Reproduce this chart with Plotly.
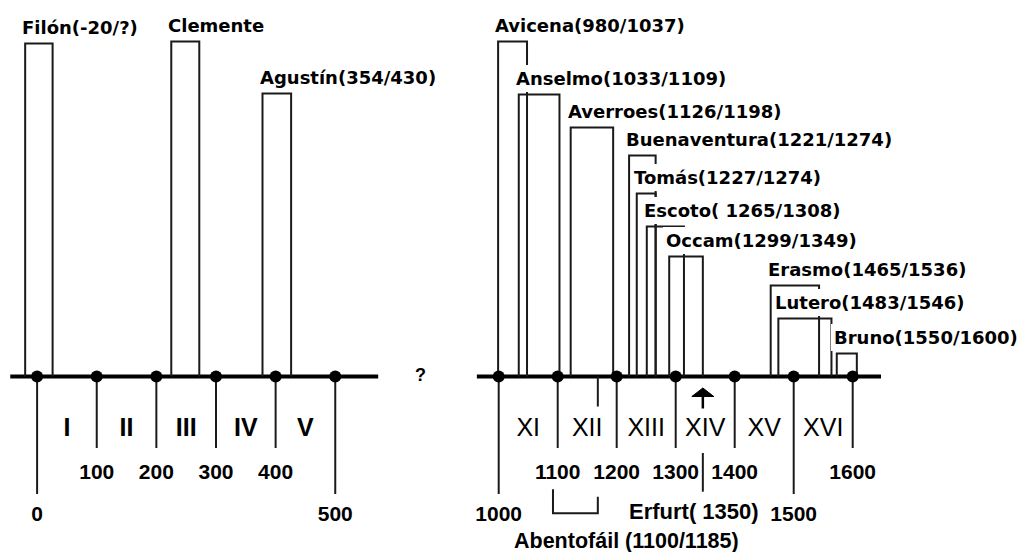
import plotly.graph_objects as go

# ---------------- data ----------------
ancient_ticks = [0, 100, 200, 300, 400, 500]
ancient_centuries = ["I", "II", "III", "IV", "V"]
medieval_ticks = [1000, 1100, 1200, 1300, 1400, 1500, 1600]
medieval_centuries = ["XI", "XII", "XIII", "XIV", "XV", "XVI"]

ancient_names = ["Filón(-20/?)", "Clemente", "Agustín(354/430)"]
ancient_start = [-20, 225, 378]
ancient_end = [26, 272, 426]
ancient_level = [333, 335, 283]

medieval_names = ["Avicena(980/1037)", "Anselmo(1033/1109)", "Averroes(1126/1198)",
                  "Buenaventura(1221/1274)", "Tomás(1227/1274)", "Escoto( 1265/1308)",
                  "Occam(1299/1349)", "Erasmo(1465/1536)", "Lutero(1483/1546)",
                  "Bruno(1550/1600)"]
medieval_start = [999, 1034, 1122, 1221, 1234, 1251, 1289, 1461, 1474, 1573]
medieval_end = [1048, 1103, 1194, 1266, 1266, 1314, 1346, 1543, 1564, 1607]
medieval_level = [335, 282, 249, 221, 183, 150, 120, 91, 58, 23]

abentofail_label = "Abentofáil (1100/1185)"
abentofail_span = [1092, 1168]
erfurt_label = "Erfurt( 1350)"
erfurt_year = 1346
gap_label = "?"

# ---------------- geometry / style ----------------
W, H = 1026, 552
AXIS_PX = 376.5
SPLIT = 470.0
L_OFF, L_SC = 37.1, 0.5963          # left panel: px = L_OFF + L_SC*year
R_OFF, R_SC = 498.7, 0.59           # right panel: px = R_OFF + R_SC*(year-1000)
LINE = "#1a1a1a"
LBL_FONT = dict(family="DejaVu Sans", size=18, color="black", weight="bold")
TICK_FONT = dict(family="Liberation Sans", size=21, color="black", weight="bold")

x1_range = [(0 - L_OFF) / L_SC, (SPLIT - L_OFF) / L_SC]
x2_range = [1000 + (SPLIT - R_OFF) / R_SC, 1000 + (W - R_OFF) / R_SC]
y_range = [AXIS_PX - H, AXIS_PX]

SHORT_TICK, LONG_TICK = -71.5, -117.5
SHORT_LBL, LONG_LBL = -97, -139.5
ROMAN_Y = -53.5

fig = go.Figure()
annotations = []
shapes = []


def panel(xref, ticks, romans, names, starts, ends, levels, span, roman_font):
    xa = "x" if xref == "x" else "x2"
    # axis line
    fig.add_trace(go.Scatter(x=span, y=[0, 0], xaxis=xa, yaxis="y", mode="lines",
                             line=dict(color="black", width=4), hoverinfo="skip",
                             cliponaxis=False))
    # bars
    bx, by = [], []
    for s, e, lv in zip(starts, ends, levels):
        bx += [s, s, e, e, None]
        by += [0, lv, lv, 0, None]
    fig.add_trace(go.Scatter(x=bx, y=by, xaxis=xa, yaxis="y", mode="lines",
                             line=dict(color=LINE, width=2), hoverinfo="skip"))
    # ticks below axis
    tx, ty, lx, ly, lt = [], [], [], [], []
    for t in ticks:
        long_ = (t % 500 == 0)
        tx += [t, t, None]
        ty += [0, LONG_TICK if long_ else SHORT_TICK, None]
        lx.append(t)
        ly.append(LONG_LBL if long_ else SHORT_LBL)
        lt.append(str(t))
    fig.add_trace(go.Scatter(x=tx, y=ty, xaxis=xa, yaxis="y", mode="lines",
                             line=dict(color=LINE, width=2), hoverinfo="skip"))
    fig.add_trace(go.Scatter(x=lx, y=ly, text=lt, xaxis=xa, yaxis="y", mode="text",
                             textposition="middle center", textfont=TICK_FONT,
                             hoverinfo="skip", cliponaxis=False))
    # century numerals
    mids = [(a + b) / 2 for a, b in zip(ticks[:-1], ticks[1:])]
    fig.add_trace(go.Scatter(x=mids, y=[ROMAN_Y] * len(mids), text=romans, xaxis=xa,
                             yaxis="y", mode="text", textposition="middle center",
                             textfont=roman_font, hoverinfo="skip", cliponaxis=False))
    # dots
    fig.add_trace(go.Scatter(x=ticks, y=[0] * len(ticks), xaxis=xa, yaxis="y",
                             mode="markers", marker=dict(color="black", size=12),
                             hoverinfo="skip", cliponaxis=False))
    # labels (white background hides the lines of earlier bars, as in the original)
    for n, s, lv in zip(names, starts, levels):
        annotations.append(dict(x=s, y=lv + 16, xref=xref, yref="y", text=n,
                                showarrow=False, xanchor="left", yanchor="middle",
                                xshift=-6, bgcolor="white", borderpad=3,
                                borderwidth=0, font=LBL_FONT))


panel("x", ancient_ticks, ancient_centuries, ancient_names, ancient_start,
      ancient_end, ancient_level, [-45, 572],
      dict(family="Liberation Sans", size=25, color="black", weight="bold"))
panel("x2", medieval_ticks, medieval_centuries, medieval_names, medieval_start,
      medieval_end, medieval_level, [963, 1648],
      dict(family="Liberation Sans", size=25, color="black"))

# Abentofáil bracket
a0, a1 = abentofail_span
fig.add_trace(go.Scatter(
    x=[a1, a1, None, a0, a0, a1, a1],
    y=[0, -30, None, -112.8, -136.8, -136.8, -120.2],
    xaxis="x2", yaxis="y", mode="lines", line=dict(color=LINE, width=2),
    hoverinfo="skip"))
annotations.append(dict(x=a0, y=-164.5, xref="x2", yref="y", text=abentofail_label,
                        showarrow=False, xanchor="left", yanchor="middle", xshift=-41,
                        font=dict(family="Liberation Sans", size=21.5, color="black",
                                  weight="bold")))

# Erfurt marker
fig.add_trace(go.Scatter(x=[erfurt_year, erfurt_year], y=[-76.5, -115.2], xaxis="x2",
                         yaxis="y", mode="lines", line=dict(color=LINE, width=2),
                         hoverinfo="skip"))
shapes.append(dict(type="path", xref="x2", yref="y", xsizemode="pixel",
                   ysizemode="pixel", xanchor=erfurt_year, yanchor=0,
                   path="M -11,-20 L 11,-20 L 0,-11.5 Z",
                   fillcolor="black", line=dict(color="black", width=1)))
shapes.append(dict(type="path", xref="x2", yref="y", xsizemode="pixel",
                   ysizemode="pixel", xanchor=erfurt_year, yanchor=0,
                   path="M 0,-20 L 0,-32", line=dict(color="black", width=2.5)))
annotations.append(dict(x=erfurt_year, y=-134.5, xref="x2", yref="y", text=erfurt_label,
                        showarrow=False, xanchor="center", yanchor="middle", xshift=-9,
                        font=dict(family="Liberation Sans", size=22, color="black",
                                  weight="bold")))

# question mark between panels
annotations.append(dict(x=420 / W, y=1.5, xref="paper", yref="y", text=gap_label,
                        showarrow=False, xanchor="center", yanchor="middle",
                        font=dict(family="Liberation Sans", size=18, color="black",
                                  weight="bold")))

fig.update_layout(
    width=W, height=H, margin=dict(l=0, r=0, t=0, b=0, pad=0),
    paper_bgcolor="white", plot_bgcolor="white", showlegend=False,
    xaxis=dict(domain=[0, SPLIT / W], range=x1_range, visible=False, fixedrange=True),
    xaxis2=dict(domain=[SPLIT / W, 1], range=x2_range, visible=False, fixedrange=True,
                anchor="y"),
    yaxis=dict(domain=[0, 1], range=y_range, visible=False, fixedrange=True),
    annotations=annotations, shapes=shapes,
)

fig.write_html("out.html", config={"displayModeBar": False},
               post_script="document.body.style.margin='0';document.body.style.overflow='hidden';")
